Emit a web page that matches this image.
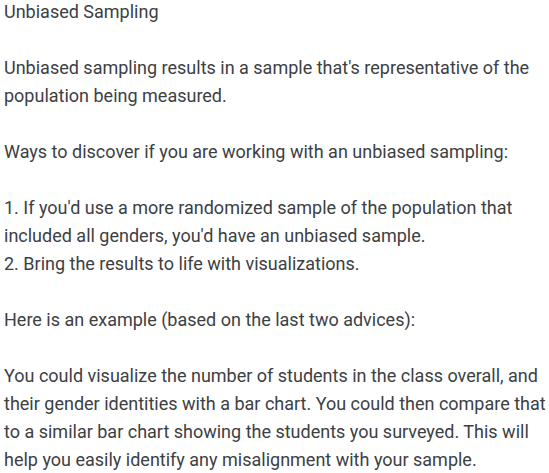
<!DOCTYPE html>
<html>
<head>
<meta charset="utf-8">
<script src="https://cdn.jsdelivr.net/npm/chart.js@4"></script>
<style>
  html, body { margin: 0; padding: 0; background: #fff; }
  body { width: 549px; height: 473px; overflow: hidden; }
  #text {
    position: absolute; left: 4px; top: -2px;
    font-family: Roboto, sans-serif; font-size: 18px; line-height: 28px;
    color: #3c4043; white-space: nowrap;
  }
  #text p { margin: 0 0 28px 0; }
</style>
</head>
<body>
<div id="text">
  <p>Unbiased Sampling</p>
  <p>Unbiased sampling results in a sample that's representative of the<br>population being measured.</p>
  <p>Ways to discover if you are working with an unbiased sampling:</p>
  <p>1. If you'd use a more randomized sample of the population that<br>included all genders, you'd have an unbiased sample.<br>2. Bring the results to life with visualizations.</p>
  <p>Here is an example (based on the last two advices):</p>
  <p>You could visualize the number of students in the class overall, and<br>their gender identities with a bar chart. You could then compare that<br>to a similar bar chart showing the students you surveyed. This will<br>help you easily identify any misalignment with your sample.</p>
</div>
</body>
</html>
